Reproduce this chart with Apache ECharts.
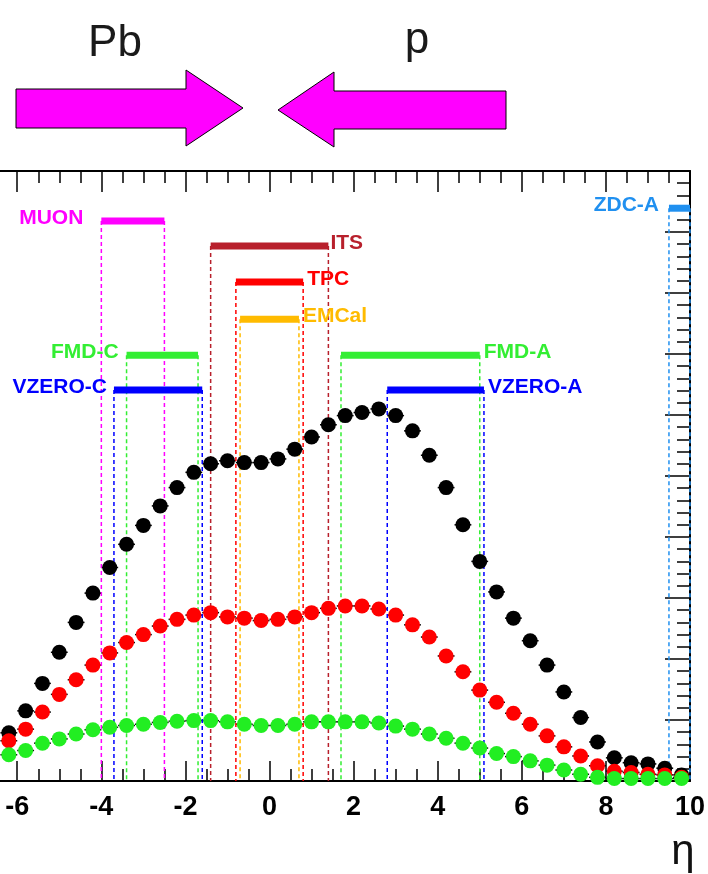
<!DOCTYPE html>
<html><head><meta charset="utf-8">
<script src="https://cdn.jsdelivr.net/npm/echarts@6/dist/echarts.min.js"></script>
<style>html,body{margin:0;padding:0;background:#fff}#c{width:708px;height:874px}</style>
</head><body><div id="c"></div>
<script>
// ---- data ----
const etaBins = [-6.2,-5.8,-5.4,-5.0,-4.6,-4.2,-3.8,-3.4,-3.0,-2.6,-2.2,-1.8,-1.4,-1.0,-0.6,-0.2,0.2,0.6,1.0,1.4,1.8,2.2,2.6,3.0,3.4,3.8,4.2,4.6,5.0,5.4,5.8,6.2,6.6,7.0,7.4,7.8,8.2,8.6,9.0,9.4,9.8];
const binHalfWidth = 0.2;
const blackVals = [0.79,1.15,1.60,2.11,2.60,3.08,3.50,3.88,4.19,4.51,4.81,5.06,5.20,5.25,5.22,5.22,5.28,5.44,5.64,5.84,5.99,6.04,6.10,5.99,5.74,5.34,4.81,4.20,3.60,3.10,2.67,2.30,1.90,1.46,1.04,0.64,0.38,0.30,0.28,0.21,0.10];
const redVals = [0.66,0.85,1.13,1.42,1.66,1.90,2.10,2.27,2.40,2.54,2.65,2.72,2.76,2.69,2.67,2.63,2.65,2.69,2.76,2.83,2.87,2.87,2.82,2.72,2.56,2.36,2.05,1.79,1.49,1.29,1.11,0.93,0.74,0.56,0.41,0.25,0.16,0.14,0.11,0.10,0.06];
const greenVals = [0.43,0.50,0.62,0.69,0.77,0.84,0.88,0.91,0.93,0.96,0.98,0.99,0.99,0.97,0.93,0.91,0.91,0.93,0.97,0.97,0.97,0.97,0.95,0.90,0.85,0.77,0.70,0.62,0.54,0.45,0.40,0.33,0.26,0.18,0.11,0.06,0.04,0.04,0.04,0.04,0.04];

const detNames = ['MUON','ITS','TPC','EMCal','FMD-C','FMD-A','VZERO-C','VZERO-A','ZDC-A'];
const detEtaMin = [-4.0,-1.4,-0.8,-0.7,-3.4,1.7,-3.7,2.8,9.5];
const detEtaMax = [-2.5,1.4,0.8,0.7,-1.7,5.0,-1.6,5.1,10.0];
const detLevel  = [9.18,8.77,8.18,7.57,6.98,6.98,6.41,6.41,9.39];
const xMajorTicks = [-6,-4,-2,0,2,4,6,8,10];
const xMinorTicks = [-5.5,-5,-4.5,-3.5,-3,-2.5,-1.5,-1,-0.5,0.5,1,1.5,2.5,3,3.5,4.5,5,5.5,6.5,7,7.5,8.5,9,9.5];

// ---- styles ----
const detColors = ['#ff00ff','#b8202c','#ff0000','#ffbb00','#33ee33','#33ee33','#0000ff','#0000ff','#2090f0'];
const detLabelSide = ['left','right','right','right','left','right','left','right','left'];
const detLabelGap = [18,2,4,4,8,4,7,4,10];
const FONT = '"Liberation Sans", Arial, Helvetica, sans-serif';

const chart = echarts.init(document.getElementById('c'), null, {renderer:'canvas'});

function errRender(params, api){
  const x = api.value(0), y = api.value(1);
  const p1 = api.coord([x - binHalfWidth, y]);
  const p2 = api.coord([x + binHalfWidth, y]);
  return {type:'line', shape:{x1:p1[0], y1:p1[1], x2:p2[0], y2:p2[1]}, style:{stroke:'#000', lineWidth:1.5}};
}
function detRender(params, api){
  const i = api.value(3);
  const a = api.coord([api.value(0), api.value(2)]);
  const b = api.coord([api.value(1), api.value(2)]);
  const a0 = api.coord([api.value(0), 0]);
  const b0 = api.coord([api.value(1), 0]);
  const col = detColors[i];
  const side = detLabelSide[i];
  const children = [
    {type:'line', shape:{x1:a[0], y1:a[1], x2:a0[0], y2:a0[1]}, style:{stroke:col, lineWidth:1.5, lineDash:[4,3]}},
    {type:'line', shape:{x1:b[0], y1:b[1], x2:b0[0], y2:b0[1]}, style:{stroke:col, lineWidth:1.5, lineDash:[4,3]}},
    {type:'line', shape:{x1:a[0], y1:a[1], x2:b[0], y2:b[1]}, style:{stroke:col, lineWidth:7, lineCap:'butt'}},
    {type:'text', x: side === 'left' ? a[0] - detLabelGap[i] : b[0] + detLabelGap[i], y: a[1] - 3,
     style:{text: detNames[i], fill: col, font: 'bold 21px ' + FONT, align: side === 'left' ? 'right' : 'left', verticalAlign:'middle'}}
  ];
  return {type:'group', children};
}

const errData = v => etaBins.map((e, k) => [e, v[k]]);
const detData = detNames.map((n, i) => [detEtaMin[i], detEtaMax[i], detLevel[i], i]);

function dataSeries(vals, color){
  return [
    {type:'custom', renderItem: errRender, data: errData(vals), silent:true, animation:false},
    {type:'scatter', data: errData(vals), symbol:'circle', symbolSize:15, itemStyle:{color: color, opacity:1}, animation:false, silent:true}
  ];
}

function xAxisDef(pos, ticks, len, labels, lineShow){
  return {
    type:'value', min:-6.41, max:10, position:pos,
    axisLine:{show:lineShow, onZero:false, lineStyle:{color:'#000', width:2}},
    axisTick:{show:true, inside:true, length:len, customValues:ticks, lineStyle:{color:'#000', width:1.5}},
    axisLabel: labels ? {show:true, customValues:ticks, margin:13, fontSize:27, fontWeight:'bold', color:'#000', fontFamily:FONT}
                      : {show:false},
    splitLine:{show:false}, minorTick:{show:false}, minorSplitLine:{show:false}
  };
}

chart.setOption({
  backgroundColor:'#fff',
  animation:false,
  grid:{left:0, right:17, top:171, bottom:93, containLabel:false},
  xAxis:[
    xAxisDef('bottom', xMajorTicks, 20, true, true),
    xAxisDef('bottom', xMinorTicks, 12, false, false),
    xAxisDef('top', xMajorTicks, 21, false, true),
    xAxisDef('top', xMinorTicks, 12, false, false)
  ],
  yAxis:[{
    type:'value', min:0, max:10, interval:1, position:'right',
    axisLine:{show:true, onZero:false, lineStyle:{color:'#000', width:2}},
    axisTick:{show:true, inside:true, length:25, lineStyle:{color:'#000', width:1.5}},
    minorTick:{show:true, splitNumber:5, length:13, lineStyle:{color:'#000', width:1.5}},
    axisLabel:{show:false}, splitLine:{show:false}, minorSplitLine:{show:false}
  }],
  series: [].concat(
    dataSeries(blackVals, '#000000'),
    dataSeries(redVals, '#ff0000'),
    dataSeries(greenVals, '#22ee22'),
    [{type:'custom', renderItem: detRender, data: detData, silent:true, animation:false, clip:false}]
  ),
  graphic:[
    {type:'polygon', shape:{points:[[16,89],[186,89],[186,70],[243,108],[186,146],[186,128],[16,128]]},
     style:{fill:'#ff00ff', stroke:'#000', lineWidth:1}},
    {type:'polygon', shape:{points:[[506,91],[334,91],[334,72],[278,110],[334,147],[334,129],[506,129]]},
     style:{fill:'#ff00ff', stroke:'#000', lineWidth:1}},
    {type:'text', x:115, y:44, style:{text:'Pb', fill:'#1a1a1a', font:'44px ' + FONT, align:'center', verticalAlign:'middle'}},
    {type:'text', x:417, y:41, style:{text:'p', fill:'#1a1a1a', font:'44px ' + FONT, align:'center', verticalAlign:'middle'}},
    {type:'text', x:683, y:852, style:{text:'η', fill:'#111', font:'42px ' + FONT, align:'center', verticalAlign:'middle'}}
  ]
});
</script>
</body></html>
